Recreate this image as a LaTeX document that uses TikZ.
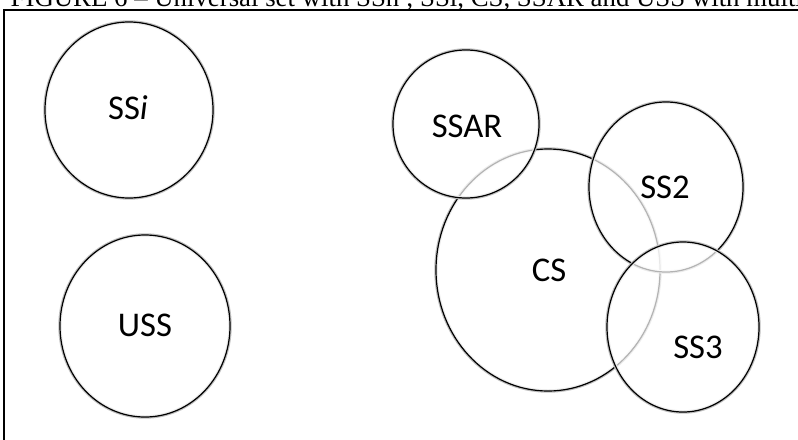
\documentclass[tikz,border=0pt]{standalone}
\usepackage{fontspec}
\setmainfont{Liberation Serif}
\newfontfamily\setfont{Carlito}
\pgfdeclareradialshading{setrim}{\pgfpoint{0bp}{0bp}}{color(0bp)=(white); color(30bp)=(white); color(34bp)=(black!14); color(35.4bp)=(black!40); color(50bp)=(black!40)}
\tikzset{
  setshape/.style={draw=black, line width=0.9pt, shade, shading=setrim, fill opacity=0.7,
    preaction={draw=black!25, line width=2.6pt}},
  setlabel/.style={font=\setfont\fontsize{26}{30}\selectfont, inner sep=0pt},
}
\begin{document}
\begin{tikzpicture}[x=0.75pt,y=0.75pt,yscale=-1,xscale=1]
\useasboundingbox (0,0) rectangle (798,439);
\clip (0,0) rectangle (798,439);

%Shape: Frame
\draw [line width=1.1pt] (4,450) -- (4,10) -- (810,10) ;
%Shape: Circle SSi
\draw [setshape] (129,110) ellipse (84 and 88) ;
%Shape: Circle USS
\draw [setshape] (145,326) ellipse (85 and 91) ;
%Shape: Circle CS
\draw [setshape] (548,270) ellipse (112 and 121) ;
%Shape: Circle SSAR
\draw [setshape] (466,124) ellipse (73 and 74) ;
%Shape: Circle SS2
\draw [setshape] (666,187) ellipse (77 and 85) ;
%Shape: Circle SS3
\draw [setshape] (683,327) ellipse (76 and 85) ;

% Text Node
\draw (6,7) node (caption) [anchor=base west, font=\fontsize{20.1}{24}\selectfont] {FIGURE 6 – Universal set with SSn ; SSi, CS, SSAR and USS with multi};
% Text Node
\draw (128,108) node (ssi) [setlabel] {SS\textit{i}};
% Text Node
\draw (145,325) node (uss) [setlabel] {USS};
% Text Node
\draw (549,270) node (cs) [setlabel] {CS};
% Text Node
\draw (467,126) node (ssar) [setlabel] {SSAR};
% Text Node
\draw (665,187) node (ss2) [setlabel] {SS2};
% Text Node
\draw (698,347) node (ss3) [setlabel] {SS3};

\end{tikzpicture}
\end{document}
